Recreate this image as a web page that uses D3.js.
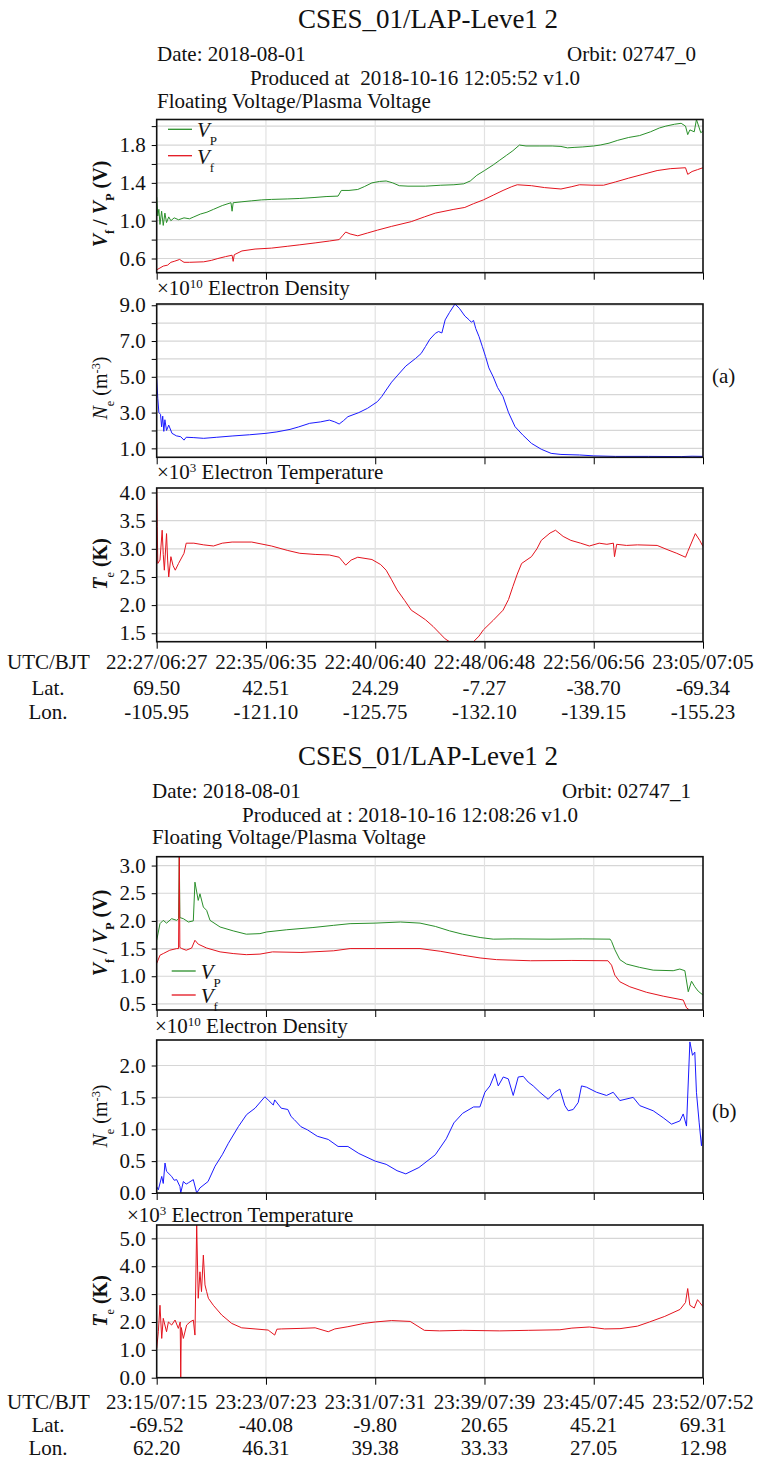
<!DOCTYPE html>
<html>
<head>
<meta charset="utf-8">
<script src="https://cdn.jsdelivr.net/npm/d3@7"></script>
<style>
  body { margin: 0; background: #fff; }
  svg, svg text, svg tspan { font-family: 'Liberation Serif', 'DejaVu Serif', serif !important; }
  svg text { fill: #111; }
</style>
</head>
<body>
<svg id="chart" width="759" height="1460" font-family="Liberation Serif"></svg>
<script>
// CSES_01 LAP Level 2 quicklook, two orbits (a) and (b)
// x positions are in "tick units": 0..5 along the time axis

// ---------- orbit 02747_0 (a) ----------
const timeLabelsA = ["22:27/06:27", "22:35/06:35", "22:40/06:40", "22:48/06:48", "22:56/06:56", "23:05/07:05"];
const latA = ["69.50", "42.51", "24.29", "-7.27", "-38.70", "-69.34"];
const lonA = ["-105.95", "-121.10", "-125.75", "-132.10", "-139.15", "-155.23"];

const vpA = [[0,1.25],[0.01,1.05],[0.02,1.12],[0.03,0.96],[0.045,1.1],[0.06,0.95],[0.075,1.08],[0.09,0.98],[0.11,1.04],[0.13,1.0],
  [0.16,1.03],[0.2,1.01],[0.25,1.03],[0.3,1.02],[0.34,1.04],[0.4,1.07],[0.46,1.09],[0.52,1.12],[0.6,1.16],[0.68,1.19],[0.69,1.1],
  [0.7,1.19],[0.78,1.2],[0.87,1.21],[0.96,1.22],[1.05,1.225],[1.2,1.23],[1.31,1.235],[1.44,1.245],[1.55,1.255],[1.66,1.26],
  [1.69,1.32],[1.76,1.32],[1.84,1.33],[1.9,1.36],[1.97,1.4],[2.04,1.415],[2.1,1.42],[2.16,1.4],[2.22,1.37],[2.3,1.365],[2.46,1.365],
  [2.6,1.375],[2.72,1.38],[2.81,1.39],[2.87,1.42],[2.93,1.48],[3.0,1.53],[3.08,1.59],[3.14,1.64],[3.2,1.69],[3.26,1.74],[3.32,1.8],
  [3.38,1.79],[3.5,1.79],[3.62,1.79],[3.7,1.785],[3.76,1.77],[3.82,1.775],[3.9,1.78],[4.0,1.79],[4.06,1.8],[4.14,1.82],[4.22,1.85],
  [4.32,1.88],[4.42,1.9],[4.52,1.94],[4.6,1.98],[4.66,2.0],[4.74,2.02],[4.8,2.03],[4.84,2.0],[4.86,1.91],[4.88,1.96],[4.92,1.94],
  [4.94,2.07],[4.96,2.0],[4.98,1.93],[5,1.95]];
const vfA = [[0,0.48],[0.03,0.5],[0.06,0.52],[0.1,0.53],[0.13,0.56],[0.16,0.57],[0.21,0.59],[0.25,0.56],[0.3,0.56],[0.43,0.565],
  [0.5,0.58],[0.56,0.6],[0.63,0.62],[0.69,0.635],[0.7,0.57],[0.71,0.64],[0.78,0.68],[0.9,0.7],[1.05,0.71],[1.2,0.73],[1.31,0.745],
  [1.45,0.765],[1.58,0.785],[1.67,0.8],[1.7,0.84],[1.73,0.88],[1.77,0.86],[1.84,0.84],[1.93,0.87],[2.02,0.9],[2.15,0.94],[2.33,0.99],
  [2.45,1.04],[2.55,1.08],[2.72,1.12],[2.82,1.14],[2.9,1.18],[2.99,1.22],[3.08,1.27],[3.17,1.32],[3.25,1.36],[3.3,1.38],[3.43,1.37],
  [3.55,1.35],[3.7,1.335],[3.8,1.36],[3.87,1.38],[4.0,1.375],[4.09,1.375],[4.2,1.41],[4.32,1.45],[4.45,1.49],[4.58,1.53],[4.7,1.55],
  [4.84,1.56],[4.86,1.49],[4.9,1.52],[4.95,1.54],[5,1.56]];
const neA = [[0,4.9],[0.01,3.8],[0.02,3.0],[0.035,2.9],[0.045,2.2],[0.055,2.8],[0.065,1.95],[0.075,2.6],[0.09,2.0],[0.11,2.3],
  [0.14,1.84],[0.18,1.7],[0.22,1.65],[0.25,1.46],[0.27,1.62],[0.34,1.6],[0.43,1.56],[0.55,1.62],[0.69,1.69],[0.85,1.76],[1.0,1.84],
  [1.1,1.92],[1.22,2.06],[1.3,2.2],[1.4,2.4],[1.5,2.48],[1.58,2.58],[1.63,2.48],[1.67,2.36],[1.71,2.55],[1.75,2.77],[1.85,3.0],
  [1.93,3.24],[2.02,3.61],[2.06,3.9],[2.1,4.26],[2.15,4.7],[2.2,5.05],[2.28,5.6],[2.37,6.03],[2.42,6.3],[2.46,6.69],[2.5,7.1],
  [2.55,7.43],[2.58,7.53],[2.61,7.45],[2.64,8.18],[2.68,8.6],[2.73,9.07],[2.77,8.83],[2.82,8.4],[2.86,8.18],[2.88,8.05],[2.9,8.15],
  [2.92,7.7],[2.95,7.25],[2.98,6.7],[3.01,6.13],[3.04,5.5],[3.08,5.0],[3.12,4.4],[3.17,3.89],[3.22,3.0],[3.28,2.21],[3.35,1.75],
  [3.43,1.28],[3.52,0.95],[3.61,0.72],[3.7,0.66],[3.87,0.63],[4.0,0.58],[4.2,0.55],[4.5,0.55],[4.8,0.54],[4.9,0.56],[5,0.55]];
const teA = [[0,4.08],[0.005,3.4],[0.01,2.74],[0.03,2.8],[0.05,3.33],[0.06,2.9],[0.07,2.62],[0.09,3.27],[0.1,2.8],[0.11,2.5],
  [0.13,2.86],[0.15,2.7],[0.17,2.62],[0.2,2.74],[0.25,2.92],[0.27,3.1],[0.34,3.1],[0.43,3.07],[0.52,3.05],[0.6,3.1],[0.69,3.12],
  [0.87,3.12],[1.05,3.05],[1.2,2.97],[1.31,2.92],[1.45,2.9],[1.58,2.89],[1.67,2.85],[1.7,2.78],[1.73,2.71],[1.78,2.8],[1.84,2.85],
  [1.97,2.81],[2.05,2.72],[2.1,2.62],[2.15,2.45],[2.2,2.27],[2.27,2.08],[2.33,1.91],[2.4,1.82],[2.46,1.74],[2.53,1.62],[2.59,1.5],
  [2.64,1.4],[2.68,1.35],[2.9,1.35],[2.95,1.45],[2.99,1.56],[3.08,1.73],[3.17,1.91],[3.22,2.1],[3.26,2.33],[3.3,2.55],[3.34,2.74],
  [3.43,2.86],[3.48,3.0],[3.52,3.15],[3.6,3.28],[3.65,3.33],[3.72,3.22],[3.79,3.15],[3.88,3.1],[3.96,3.05],[4.05,3.1],[4.12,3.08],
  [4.18,3.1],[4.19,2.86],[4.21,3.08],[4.3,3.06],[4.4,3.07],[4.58,3.06],[4.68,2.98],[4.76,2.92],[4.84,2.85],[4.86,2.95],[4.93,3.27],
  [4.97,3.15],[5,3.04]];

// ---------- orbit 02747_1 (b) ----------
const timeLabelsB = ["23:15/07:15", "23:23/07:23", "23:31/07:31", "23:39/07:39", "23:45/07:45", "23:52/07:52"];
const latB = ["-69.52", "-40.08", "-9.80", "20.65", "45.21", "69.31"];
const lonB = ["62.20", "46.31", "39.38", "33.33", "27.05", "12.98"];

const vpB = [[0,1.65],[0.03,1.95],[0.06,2.01],[0.09,1.96],[0.137,2.04],[0.183,2.01],[0.2,2.04],[0.207,3.16],[0.212,2.06],[0.244,2.04],
  [0.29,1.98],[0.335,2.0],[0.35,2.7],[0.38,2.37],[0.396,2.49],[0.427,2.25],[0.457,2.19],[0.488,2.01],[0.58,1.89],[0.7,1.82],
  [0.82,1.76],[0.945,1.77],[1.006,1.8],[1.19,1.84],[1.43,1.88],[1.62,1.92],[1.77,1.95],[2.0,1.96],[2.23,1.98],[2.41,1.96],
  [2.55,1.9],[2.68,1.82],[2.8,1.76],[2.96,1.7],[3.08,1.67],[3.26,1.675],[3.6,1.67],[3.9,1.675],[4.15,1.67],[4.163,1.63],
  [4.193,1.48],[4.239,1.3],[4.3,1.22],[4.42,1.16],[4.544,1.11],[4.727,1.1],[4.788,1.13],[4.834,1.1],[4.865,0.72],[4.895,0.91],
  [4.925,0.81],[4.956,0.73],[5,0.66]];
const vfB = [[0,1.23],[0.03,1.38],[0.06,1.41],[0.12,1.47],[0.183,1.5],[0.2,1.5],[0.207,3.16],[0.212,1.52],[0.23,1.5],[0.27,1.47],
  [0.32,1.51],[0.35,1.65],[0.38,1.58],[0.457,1.51],[0.58,1.44],[0.7,1.41],[0.82,1.39],[0.945,1.4],[1.06,1.44],[1.32,1.43],
  [1.62,1.46],[1.77,1.5],[2.0,1.5],[2.41,1.5],[2.6,1.45],[2.8,1.38],[2.96,1.33],[3.11,1.3],[3.42,1.28],[3.8,1.285],[4.13,1.28],
  [4.163,1.2],[4.193,1.02],[4.239,0.9],[4.33,0.81],[4.483,0.71],[4.636,0.64],[4.819,0.57],[4.849,0.43],[4.87,0.4]];
const neB = [[0,0.1],[0.015,0.05],[0.046,0.26],[0.06,0.15],[0.076,0.47],[0.09,0.34],[0.137,0.26],[0.16,0.2],[0.183,0.21],
  [0.213,0.1],[0.22,0.0],[0.244,0.18],[0.27,0.14],[0.29,0.16],[0.335,0.21],[0.366,0.0],[0.396,0.08],[0.47,0.18],[0.534,0.42],
  [0.6,0.6],[0.656,0.78],[0.747,1.04],[0.823,1.23],[0.9,1.33],[0.99,1.51],[1.02,1.46],[1.067,1.38],[1.08,1.46],[1.14,1.33],
  [1.2,1.31],[1.23,1.2],[1.26,1.15],[1.32,1.04],[1.38,0.99],[1.47,0.89],[1.57,0.84],[1.66,0.73],[1.75,0.73],[1.85,0.62],[2.0,0.5],
  [2.1,0.45],[2.2,0.35],[2.28,0.3],[2.4,0.4],[2.55,0.6],[2.65,0.85],[2.72,1.1],[2.8,1.25],[2.9,1.35],[2.958,1.35],[3.004,1.58],
  [3.05,1.68],[3.095,1.87],[3.126,1.68],[3.172,1.82],[3.218,1.79],[3.263,1.53],[3.309,1.82],[3.355,1.83],[3.4,1.74],[3.446,1.68],
  [3.507,1.58],[3.583,1.47],[3.644,1.58],[3.69,1.63],[3.736,1.37],[3.766,1.29],[3.812,1.31],[3.858,1.42],[3.888,1.68],[3.934,1.66],
  [4.026,1.58],[4.117,1.53],[4.178,1.58],[4.239,1.45],[4.361,1.5],[4.422,1.37],[4.544,1.29],[4.636,1.18],[4.712,1.08],[4.788,1.13],
  [4.819,1.24],[4.849,1.05],[4.88,2.37],[4.904,2.16],[4.925,2.21],[4.94,1.58],[4.965,1.1],[4.986,0.74],[5,1.0]];
const teB = [[0,1.05],[0.015,1.65],[0.03,2.6],[0.046,1.41],[0.06,2.13],[0.09,1.65],[0.107,2.0],[0.137,1.89],[0.168,2.07],
  [0.198,1.77],[0.215,2.0],[0.22,0.0],[0.225,1.8],[0.244,1.41],[0.274,1.89],[0.305,2.0],[0.335,2.07],[0.35,1.53],[0.366,5.48],
  [0.38,2.85],[0.396,3.8],[0.41,3.09],[0.427,4.4],[0.442,3.33],[0.457,3.09],[0.473,2.85],[0.518,2.6],[0.595,2.25],[0.686,1.95],
  [0.778,1.79],[0.9,1.75],[1.02,1.71],[1.08,1.53],[1.1,1.74],[1.14,1.75],[1.32,1.77],[1.45,1.79],[1.57,1.65],[1.63,1.75],
  [1.75,1.83],[1.9,1.95],[2.0,2.0],[2.15,2.05],[2.32,2.02],[2.45,1.7],[2.59,1.68],[2.8,1.7],[3.14,1.68],[3.4,1.7],[3.69,1.72],
  [3.8,1.78],[3.96,1.82],[4.1,1.75],[4.24,1.76],[4.4,1.85],[4.51,2.0],[4.65,2.2],[4.79,2.45],[4.84,2.7],[4.86,3.2],[4.88,2.6],
  [4.92,2.5],[4.95,2.8],[4.97,2.7],[5,2.55]];

// y ticks
const vTicksA = [0.6, 1.0, 1.4, 1.8], vMinorA = [0.8, 1.2, 1.6, 2.0];
const neTicksA = [1, 3, 5, 7, 9], neMinorA = [2, 4, 6, 8];
const teTicksA = [1.5, 2.0, 2.5, 3.0, 3.5, 4.0];
const vTicksB = [0.5, 1.0, 1.5, 2.0, 2.5, 3.0];
const neTicksB = [0, 0.5, 1.0, 1.5, 2.0];
const teTicksB = [0, 1, 2, 3, 4, 5];

const GREEN = "#2a8f2a", RED = "#e3141e", BLUE = "#1a1aff";
const FONT = 21;
const SERIF = "'Liberation Serif', 'DejaVu Serif', serif";

const svg = d3.select("#chart").attr("font-family", SERIF);
svg.append("rect").attr("width", 759).attr("height", 1460).attr("fill", "#fff");

const x = d3.scaleLinear().domain([0, 5]).range([156.7, 703]);
const xTicks = [0, 1, 2, 3, 4, 5];

// text made of parts, each {t, i (italic), sub, sup, b (bold)}
function richText(g, parts, size) {
    const t = g.append("text").attr("font-size", size).attr("font-family", SERIF);
    parts.forEach(p => {
        const s = t.append("tspan").text(p.t);
        if (p.i) s.attr("font-style", "italic");
        if (p.b) s.attr("font-weight", "bold");
        if (p.sub) s.attr("baseline-shift", "sub").attr("font-size", size * 0.62);
        if (p.sup) s.attr("baseline-shift", "super").attr("font-size", size * 0.62);
    });
    return t;
}

function drawPlot(p) {
    const y = d3.scaleLinear().domain(p.domain).range([p.bottom, p.top]);
    const g = svg.append("g");
    const w = x(5) - x(0);

    svg.append("clipPath").attr("id", "clip-" + p.id)
        .append("rect").attr("x", x(0)).attr("y", p.top).attr("width", w).attr("height", p.bottom - p.top);

    // grid
    g.append("g").selectAll("line").data(p.ticks.concat(p.minor || [])).join("line")
        .attr("x1", x(0)).attr("x2", x(5))
        .attr("y1", d => y(d)).attr("y2", d => y(d))
        .attr("stroke", "#d6d6d6").attr("stroke-width", 1.2);
    g.append("g").selectAll("line").data([1, 2, 3, 4]).join("line")
        .attr("x1", d => x(d)).attr("x2", d => x(d))
        .attr("y1", p.top).attr("y2", p.bottom)
        .attr("stroke", "#e2e2e2").attr("stroke-width", 1.2);

    // data lines
    const line = d3.line().x(d => x(d[0])).y(d => y(d[1]));
    p.series.forEach(s => {
        g.append("path").datum(s.data)
            .attr("clip-path", `url(#clip-${p.id})`)
            .attr("fill", "none").attr("stroke", s.color)
            .attr("stroke-width", 1).attr("stroke-linejoin", "round")
            .attr("d", line);
    });

    // y axis
    const ya = g.append("g").attr("transform", `translate(${x(0)},0)`)
        .call(d3.axisLeft(y).tickValues(p.ticks).tickFormat(d3.format(".1f")).tickSize(5).tickPadding(6));
    if (p.minor) {
        g.append("g").attr("transform", `translate(${x(0)},0)`)
            .call(d3.axisLeft(y).tickValues(p.minor).tickFormat("").tickSize(5))
            .select(".domain").remove();
    }
    ya.attr("font-family", SERIF).attr("font-size", FONT);
    ya.select(".domain").remove();
    ya.selectAll("text").attr("font-size", FONT).attr("fill", "#111");

    // x axis ticks only
    g.append("g").attr("transform", `translate(0,${p.bottom})`)
        .call(d3.axisBottom(x).tickValues(xTicks).tickFormat("").tickSize(7))
        .select(".domain").remove();

    // frame
    g.append("rect").attr("x", x(0)).attr("y", p.top).attr("width", w).attr("height", p.bottom - p.top)
        .attr("fill", "none").attr("stroke", "#111").attr("stroke-width", 1.6);

    // rotated y label
    richText(g, p.ylabel, 20).attr("text-anchor", "middle")
        .attr("transform", `translate(107,${p.ylabelY}) rotate(-90)`);
    return y;
}

function drawHeader(h) {
    svg.append("text").attr("x", h.titleX).attr("y", h.titleY).attr("text-anchor", "middle")
        .attr("font-size", 27).text("CSES_01/LAP-Leve1 2");
    svg.append("text").attr("x", h.left).attr("y", h.dateY).attr("font-size", FONT).text("Date: 2018-08-01");
    svg.append("text").attr("x", h.right).attr("y", h.dateY).attr("text-anchor", "end")
        .attr("font-size", FONT).text(h.orbit);
    svg.append("text").attr("x", h.prodX).attr("y", h.prodY).attr("text-anchor", "middle")
        .attr("font-size", FONT).style("white-space", "pre").text(h.produced);
    svg.append("text").attr("x", h.left).attr("y", h.floatY).attr("font-size", FONT)
        .text("Floating Voltage/Plasma Voltage");
}

function drawPanelLabel(px, py, parts) {
    richText(svg, parts, FONT).attr("x", px).attr("y", py);
}

function drawLegend(lx, y1, y2) {
    const items = [{c: GREEN, s: "P", y: y1}, {c: RED, s: "f", y: y2}];
    items.forEach(it => {
        svg.append("line").attr("x1", lx).attr("x2", lx + 24).attr("y1", it.y).attr("y2", it.y)
            .attr("stroke", it.c).attr("stroke-width", 1.3);
        richText(svg, [{t: "V", i: true}, {t: it.s, sub: true}], FONT)
            .attr("x", lx + 29).attr("y", it.y + 8);
    });
}

function drawBottom(labels, lat, lon, rows) {
    const g = svg.append("g").attr("font-size", FONT);
    g.append("text").attr("x", 7).attr("y", rows[0]).text("UTC/BJT");
    g.append("text").attr("x", 48).attr("y", rows[1]).attr("text-anchor", "middle").text("Lat.");
    g.append("text").attr("x", 48).attr("y", rows[2]).attr("text-anchor", "middle").text("Lon.");
    [labels, lat, lon].forEach((arr, r) => {
        g.append("g").selectAll("text").data(arr).join("text")
            .attr("x", (d, i) => x(xTicks[i])).attr("y", rows[r])
            .attr("text-anchor", "middle").text(d => d);
    });
}

const vLabel = [{t: "V", i: true, b: true}, {t: "f", sub: true, b: true}, {t: " / ", b: true},
                {t: "V", i: true, b: true}, {t: "P", sub: true, b: true}, {t: " (V)", b: true}];
const neLabel = [{t: "N", i: true}, {t: "e", sub: true}, {t: " (m"}, {t: "-3", sup: true}, {t: ")"}];
const teLabel = [{t: "T", i: true, b: true}, {t: "e", sub: true}, {t: " (K)", b: true}];
const neTitle = [{t: "\u00d710"}, {t: "10", sup: true}, {t: " Electron Density"}];
const teTitle = [{t: "\u00d710"}, {t: "3", sup: true}, {t: " Electron Temperature"}];

// ---------- panel (a) ----------
drawHeader({titleX: 428, titleY: 28, left: 157, right: 696, dateY: 61, orbit: "Orbit: 02747_0",
            prodX: 415, prodY: 85, produced: "Produced at  2018-10-16 12:05:52 v1.0", floatY: 108});
drawPlot({id: "a1", top: 119.5, bottom: 272.7, domain: [0.45, 2.07], ticks: vTicksA, minor: vMinorA,
          series: [{data: vpA, color: GREEN}, {data: vfA, color: RED}], ylabel: vLabel, ylabelY: 204});
drawLegend(168, 129.3, 155.7);
drawPanelLabel(157, 295, neTitle);
drawPlot({id: "a2", top: 304, bottom: 457.3, domain: [0.5, 9.07], ticks: neTicksA, minor: neMinorA,
          series: [{data: neA, color: BLUE}], ylabel: neLabel, ylabelY: 388});
drawPanelLabel(157, 479, teTitle);
drawPlot({id: "a3", top: 488, bottom: 641.7, domain: [1.35, 4.08], ticks: teTicksA,
          series: [{data: teA, color: RED}], ylabel: teLabel, ylabelY: 564});
drawBottom(timeLabelsA, latA, lonA, [669, 695, 719]);
svg.append("text").attr("x", 712).attr("y", 383).attr("font-size", FONT).text("(a)");

// ---------- panel (b) ----------
drawHeader({titleX: 428, titleY: 765, left: 152, right: 691, dateY: 798, orbit: "Orbit: 02747_1",
            prodX: 410, prodY: 822, produced: "Produced at : 2018-10-16 12:08:26 v1.0", floatY: 844});
drawPlot({id: "b1", top: 856.7, bottom: 1010, domain: [0.39, 3.16], ticks: vTicksB,
          series: [{data: vpB, color: GREEN}, {data: vfB, color: RED}], ylabel: vLabel, ylabelY: 933});
drawLegend(171.7, 971, 995);
drawPanelLabel(155, 1033, neTitle);
drawPlot({id: "b2", top: 1040, bottom: 1193, domain: [0, 2.4], ticks: neTicksB,
          series: [{data: neB, color: BLUE}], ylabel: neLabel, ylabelY: 1116});
drawPanelLabel(127, 1221.5, teTitle);
drawPlot({id: "b3", top: 1225, bottom: 1377.7, domain: [0, 5.48], ticks: teTicksB,
          series: [{data: teB, color: RED}], ylabel: teLabel, ylabelY: 1301});
drawBottom(timeLabelsB, latB, lonB, [1409, 1432, 1455]);
svg.append("text").attr("x", 712).attr("y", 1118).attr("font-size", FONT).text("(b)");
</script>
</body>
</html>
